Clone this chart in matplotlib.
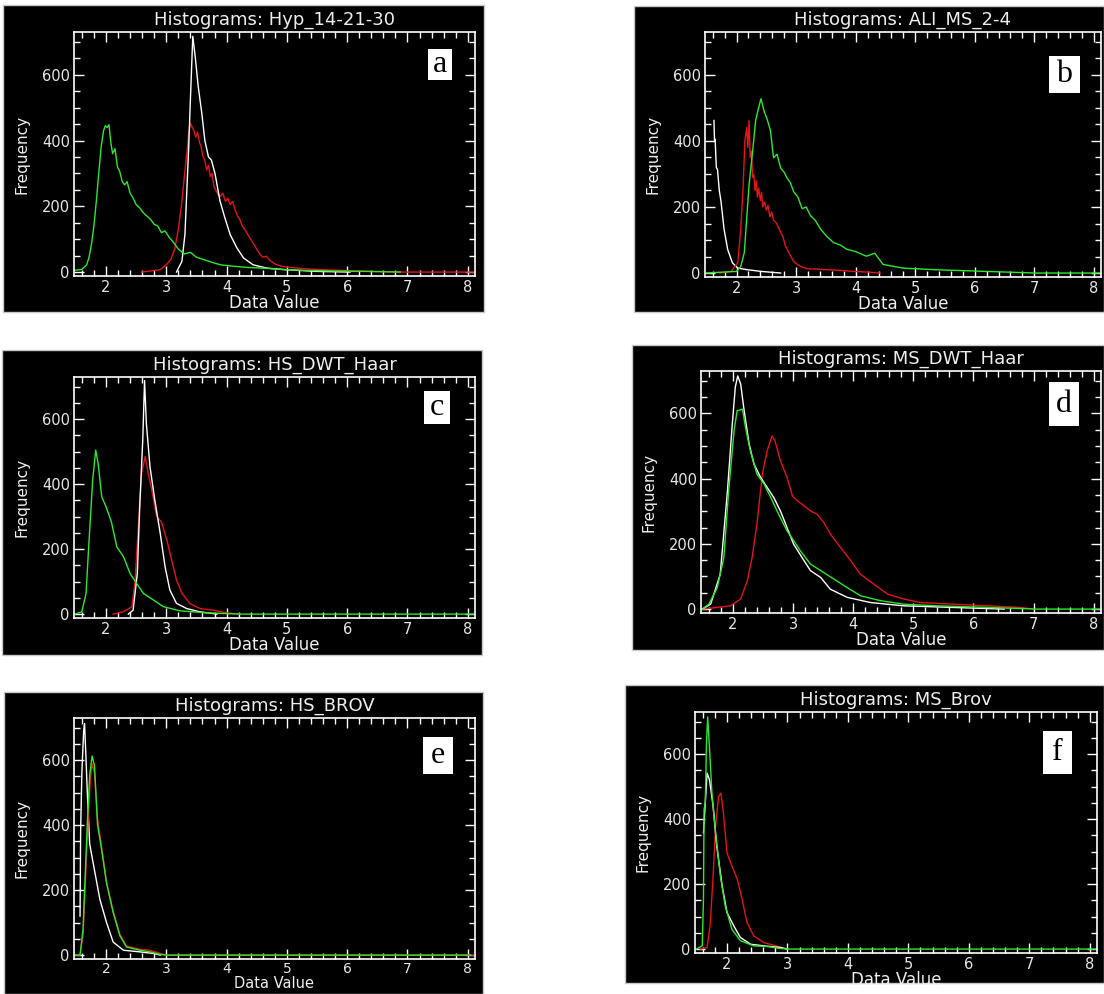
import matplotlib
matplotlib.use("Agg")
import matplotlib.pyplot as plt
from matplotlib.patches import Rectangle
from matplotlib.ticker import MultipleLocator

# ---- panel a: Hyp_14-21-30
a_green_x = [1.47, 1.60, 1.68, 1.72, 1.76, 1.80, 1.84, 1.88, 1.92, 1.96, 1.99, 2.02, 2.05, 2.08, 2.11, 2.15,
             2.19, 2.23, 2.27, 2.31, 2.35, 2.40, 2.45, 2.50, 2.56, 2.62, 2.68, 2.74, 2.80, 2.86, 2.92, 2.98,
             3.05, 3.12, 3.20, 3.30, 3.40, 3.50, 3.62, 3.75, 3.90, 4.10, 4.35, 4.60, 4.90, 5.30, 5.80, 6.30, 6.88]
a_green_y = [5, 8, 22, 45, 85, 140, 215, 300, 380, 430, 445, 440, 448, 395, 360, 375,
             320, 305, 275, 265, 275, 240, 225, 205, 195, 180, 170, 160, 145, 140, 120, 125,
             105, 90, 70, 55, 60, 45, 38, 30, 22, 18, 14, 12, 8, 5, 3, 2, 0]
a_red_x = [2.59, 2.90, 3.00, 3.08, 3.14, 3.20, 3.25, 3.30, 3.34, 3.37, 3.40, 3.43, 3.46, 3.49, 3.52, 3.55,
           3.58, 3.61, 3.64, 3.67, 3.70, 3.73, 3.76, 3.79, 3.82, 3.86, 3.90, 3.94, 3.98, 4.02, 4.06, 4.10,
           4.14, 4.18, 4.22, 4.26, 4.30, 4.35, 4.40, 4.45, 4.50, 4.55, 4.60, 4.66, 4.72, 4.80, 4.90, 5.05,
           5.30, 5.60, 6.05, 6.88, 8.12]
a_red_y = [0, 7, 22, 40, 70, 130, 200, 290, 360, 420, 452, 440, 430, 410, 425, 395,
           380, 350, 340, 310, 325, 290, 300, 260, 250, 235, 230, 240, 215, 225, 205, 215,
           190, 170, 160, 140, 130, 115, 100, 85, 70, 55, 45, 48, 35, 25, 18, 14,
           10, 7, 4, 0, 0]
a_white_x = [3.17, 3.26, 3.31, 3.37, 3.40, 3.44, 3.48, 3.53, 3.59, 3.64, 3.70, 3.75, 3.81, 3.89, 3.97,
             4.06, 4.17, 4.28, 4.44, 4.67, 4.99, 5.50, 6.05]
a_white_y = [0, 33, 115, 370, 523, 717, 655, 564, 482, 400, 350, 340, 298, 217, 166,
             114, 74, 43, 22, 12, 7, 2, 0]

# ---- panel b: ALI_MS_2-4
b_white_x = [1.62, 1.63, 1.64, 1.66, 1.68, 1.71, 1.74, 1.79, 1.85, 1.93, 2.02, 2.18, 2.41, 2.74]
b_white_y = [462, 400, 405, 320, 313, 250, 215, 133, 72, 31, 15, 10, 5, 0]
b_red_x = [1.71, 1.91, 2.02, 2.07, 2.11, 2.14, 2.17, 2.19, 2.21, 2.23, 2.25, 2.27, 2.29, 2.31, 2.33,
           2.35, 2.37, 2.40, 2.42, 2.44, 2.47, 2.50, 2.53, 2.56, 2.59, 2.62, 2.66, 2.70, 2.74, 2.78,
           2.82, 2.87, 2.91, 2.96, 3.02, 3.10, 3.19, 3.35, 3.52, 3.75, 3.96, 4.20, 4.41]
b_red_y = [0, 5, 31, 133, 260, 400, 441, 380, 462, 350, 369, 290, 298, 250, 280,
           230, 257, 220, 245, 200, 215, 190, 205, 170, 185, 160, 154, 140, 123, 110,
           82, 65, 51, 35, 26, 18, 13, 12, 10, 8, 5, 3, 0]
b_green_x = [1.48, 2.00, 2.07, 2.13, 2.21, 2.27, 2.32, 2.37, 2.41, 2.46, 2.52, 2.57, 2.62, 2.68, 2.74,
             2.80, 2.85, 2.90, 2.96, 3.03, 3.10, 3.17, 3.24, 3.32, 3.41, 3.52, 3.63, 3.74, 3.85, 4.00,
             4.18, 4.32, 4.46, 4.79, 5.35, 6.18, 7.02, 8.12]
b_green_y = [0, 5, 20, 62, 267, 369, 462, 500, 528, 492, 462, 431, 349, 360, 318,
             305, 287, 275, 246, 230, 195, 200, 174, 160, 133, 110, 92, 85, 72, 65,
             51, 60, 26, 15, 10, 5, 0, 0]

# ---- panel c: HS_DWT_Haar
c_green_x = [1.49, 1.60, 1.67, 1.72, 1.78, 1.83, 1.87, 1.93, 2.00, 2.09, 2.18, 2.29, 2.40, 2.51, 2.62,
             2.79, 2.95, 3.23, 3.67, 4.22, 8.12]
c_green_y = [0, 7, 64, 228, 413, 505, 464, 361, 331, 284, 207, 177, 125, 94, 64,
             43, 23, 10, 4, 0, 0]
c_red_x = [2.12, 2.29, 2.43, 2.48, 2.54, 2.59, 2.65, 2.70, 2.76, 2.84, 2.92, 3.01, 3.09, 3.17, 3.26,
           3.39, 3.56, 3.78, 4.00, 4.22]
c_red_y = [0, 7, 23, 94, 279, 433, 485, 433, 382, 300, 284, 228, 166, 105, 64,
           33, 17, 12, 4, 0]
c_white_x = [2.37, 2.45, 2.52, 2.56, 2.61, 2.64, 2.67, 2.73, 2.81, 2.90, 2.98, 3.06, 3.17, 3.34, 3.56, 3.84]
c_white_y = [0, 12, 125, 331, 536, 719, 587, 454, 351, 249, 146, 74, 33, 17, 7, 0]

# ---- panel d: MS_DWT_Haar
d_white_x = [1.49, 1.63, 1.79, 1.91, 1.99, 2.04, 2.08, 2.13, 2.18, 2.27, 2.35, 2.46, 2.57, 2.68, 2.79,
             2.90, 3.01, 3.15, 3.29, 3.46, 3.62, 3.90, 4.29, 4.84, 5.67, 6.51]
d_white_y = [0, 15, 107, 363, 567, 680, 715, 690, 618, 506, 445, 404, 373, 342, 301,
             250, 199, 158, 118, 97, 61, 36, 20, 10, 5, 0]
d_red_x = [1.49, 1.96, 2.13, 2.24, 2.32, 2.40, 2.49, 2.57, 2.65, 2.70, 2.79, 2.90, 2.99, 3.07, 3.18,
           3.29, 3.40, 3.51, 3.62, 3.79, 3.96, 4.12, 4.34, 4.57, 4.84, 5.12, 5.67, 6.23, 6.78, 7.00]
d_red_y = [0, 10, 31, 87, 158, 261, 414, 485, 531, 516, 455, 404, 347, 332, 317,
           301, 291, 266, 230, 189, 148, 107, 77, 46, 31, 20, 15, 10, 5, 0]
d_green_x = [1.49, 1.60, 1.74, 1.85, 1.93, 2.02, 2.07, 2.16, 2.21, 2.29, 2.40, 2.52, 2.63, 2.76, 2.90,
             3.01, 3.12, 3.29, 3.46, 3.68, 3.90, 4.12, 4.45, 4.84, 5.40, 6.23, 7.06, 8.12]
d_green_y = [0, 15, 66, 158, 363, 547, 608, 613, 557, 485, 414, 383, 342, 291, 240,
             210, 179, 138, 118, 92, 66, 41, 26, 15, 10, 5, 0, 0]

# ---- panel e: HS_BROV
e_white_x = [1.57, 1.58, 1.60, 1.63, 1.645, 1.67, 1.69, 1.73, 1.82, 1.90, 2.01, 2.12, 2.29, 2.56, 2.79, 2.90]
e_white_y = [120, 380, 560, 690, 713, 600, 503, 342, 251, 171, 100, 40, 15, 10, 5, 0]
e_red_x = [1.47, 1.57, 1.62, 1.69, 1.74, 1.77, 1.81, 1.86, 1.93, 2.01, 2.12, 2.23, 2.34, 2.56, 2.73,
           2.90, 3.00, 8.12]
e_red_y = [0, 0, 60, 360, 540, 590, 560, 420, 330, 225, 135, 65, 28, 18, 15,
           5, 0, 0]
e_green_x = [1.47, 1.57, 1.62, 1.69, 1.73, 1.77, 1.81, 1.86, 1.93, 2.01, 2.12, 2.23, 2.34, 2.56, 2.73,
             2.90, 3.00, 8.05]
e_green_y = [0, 0, 80, 402, 553, 613, 583, 402, 322, 221, 131, 60, 25, 15, 10,
             2, 0, 0]

# ---- panel f: MS_Brov
f_red_x = [1.56, 1.67, 1.72, 1.77, 1.81, 1.86, 1.90, 1.94, 2.00, 2.08, 2.17, 2.25, 2.33, 2.44, 2.61,
           2.77, 2.94, 3.00]
f_red_y = [0, 5, 72, 225, 378, 470, 480, 419, 296, 256, 215, 153, 82, 41, 20,
           12, 3, 0]
f_white_x = [1.61, 1.67, 1.71, 1.77, 1.83, 1.92, 2.00, 2.11, 2.22, 2.39, 2.61, 2.88, 3.00]
f_white_y = [358, 542, 521, 440, 317, 194, 112, 72, 36, 15, 10, 5, 0]
f_green_x = [1.49, 1.59, 1.61, 1.62, 1.64, 1.66, 1.68, 1.71, 1.75, 1.81, 1.89, 1.97, 2.08, 2.22, 2.44,
             2.66, 2.88, 3.00, 8.12]
f_green_y = [0, 10, 153, 430, 450, 634, 715, 618, 480, 358, 225, 133, 61, 26, 10,
             8, 2, 0, 0]

TITLES = ["Histograms: Hyp_14-21-30", "Histograms: ALI_MS_2-4", "Histograms: HS_DWT_Haar",
          "Histograms: MS_DWT_Haar", "Histograms: HS_BROV", "Histograms: MS_Brov"]
LETTERS = ["a", "b", "c", "d", "e", "f"]

# pixel layout: black panel, plot frame, letter box  (left, top, right, bottom)
BLACK = [(3, 5, 484, 312), (634, 6, 1104, 312), (2, 350, 482, 655),
         (632, 345, 1104, 650), (4, 692, 483, 994), (625, 685, 1104, 983)]
FRAME = [(74, 32, 475, 276), (705, 32, 1101, 277), (74, 377, 475, 618),
         (701, 371, 1101, 613), (74, 718, 475, 959), (695, 712, 1097, 953)]
LBOX = [(428, 49, 452, 80), (1049, 56, 1080, 93), (424, 391, 450, 424),
        (1049, 382, 1079, 426), (423, 737, 453, 774), (1043, 731, 1072, 774)]

GREEN, RED, WHITE = "#2ee82e", "#e3141a", "#ffffff"
CURVES = [
    [(a_red_x, a_red_y, RED), (a_white_x, a_white_y, WHITE), (a_green_x, a_green_y, GREEN)],
    [(b_white_x, b_white_y, WHITE), (b_red_x, b_red_y, RED), (b_green_x, b_green_y, GREEN)],
    [(c_red_x, c_red_y, RED), (c_white_x, c_white_y, WHITE), (c_green_x, c_green_y, GREEN)],
    [(d_red_x, d_red_y, RED), (d_white_x, d_white_y, WHITE), (d_green_x, d_green_y, GREEN)],
    [(e_white_x, e_white_y, WHITE), (e_red_x, e_red_y, RED), (e_green_x, e_green_y, GREEN)],
    [(f_red_x, f_red_y, RED), (f_white_x, f_white_y, WHITE), (f_green_x, f_green_y, GREEN)],
]

W, H = 1104, 994
fig = plt.figure(figsize=(W / 100, H / 100), dpi=100)
fig.patch.set_facecolor("white")


def fbox(b):
    l, t, r, bt = b
    return [l / W, 1 - bt / H, (r - l) / W, (bt - t) / H]


for i in range(6):
    bx = fbox(BLACK[i])
    fig.add_artist(Rectangle(bx[:2], bx[2], bx[3], transform=fig.transFigure,
                             fc="black", ec="#c8c8c8", lw=1, zorder=-5))
    ax = fig.add_axes(fbox(FRAME[i]))
    ax.set_facecolor("black")
    for x, y, c in CURVES[i]:
        ax.plot(x, y, color=c, lw=1.0)
    ax.set_xlim(1.47, 8.12); ax.set_ylim(-12, 730)
    ax.set_xticks(range(2, 9)); ax.set_yticks([0, 200, 400, 600])
    ax.xaxis.set_minor_locator(MultipleLocator(0.2))
    ax.yaxis.set_minor_locator(MultipleLocator(50))
    ax.tick_params(which="both", direction="in", top=True, right=True, colors="white",
                   labelcolor="#e6e6e6", labelsize=10.5, pad=3)
    ax.tick_params(which="major", length=7, width=1)
    ax.tick_params(which="minor", length=4, width=1)
    for s in ax.spines.values():
        s.set_color("white"); s.set_linewidth(1.2)
    ax.set_title(TITLES[i], color="#eeeeee", fontsize=13, pad=5)
    if i == 4:
        # bottom-left panel runs into the page edge: squeeze the x labels
        ax.tick_params(axis="x", labelsize=10, pad=2)
        ax.set_xlabel("Data Value", color="#eeeeee", fontsize=10.5, labelpad=0)
    else:
        ax.set_xlabel("Data Value", color="#eeeeee", fontsize=12, labelpad=-1)
    ax.set_ylabel("Frequency", color="#eeeeee", fontsize=11, labelpad=9)
    lb = fbox(LBOX[i])
    fig.add_artist(Rectangle(lb[:2], lb[2], lb[3], transform=fig.transFigure,
                             fc="white", ec="none", zorder=5))
    fig.text(lb[0] + lb[2] / 2, lb[1] + lb[3] / 2, LETTERS[i], family="Liberation Serif",
             fontsize=23, ha="center", va="center", color="black", zorder=6)

fig.savefig("out.png", dpi=100, facecolor="white")
